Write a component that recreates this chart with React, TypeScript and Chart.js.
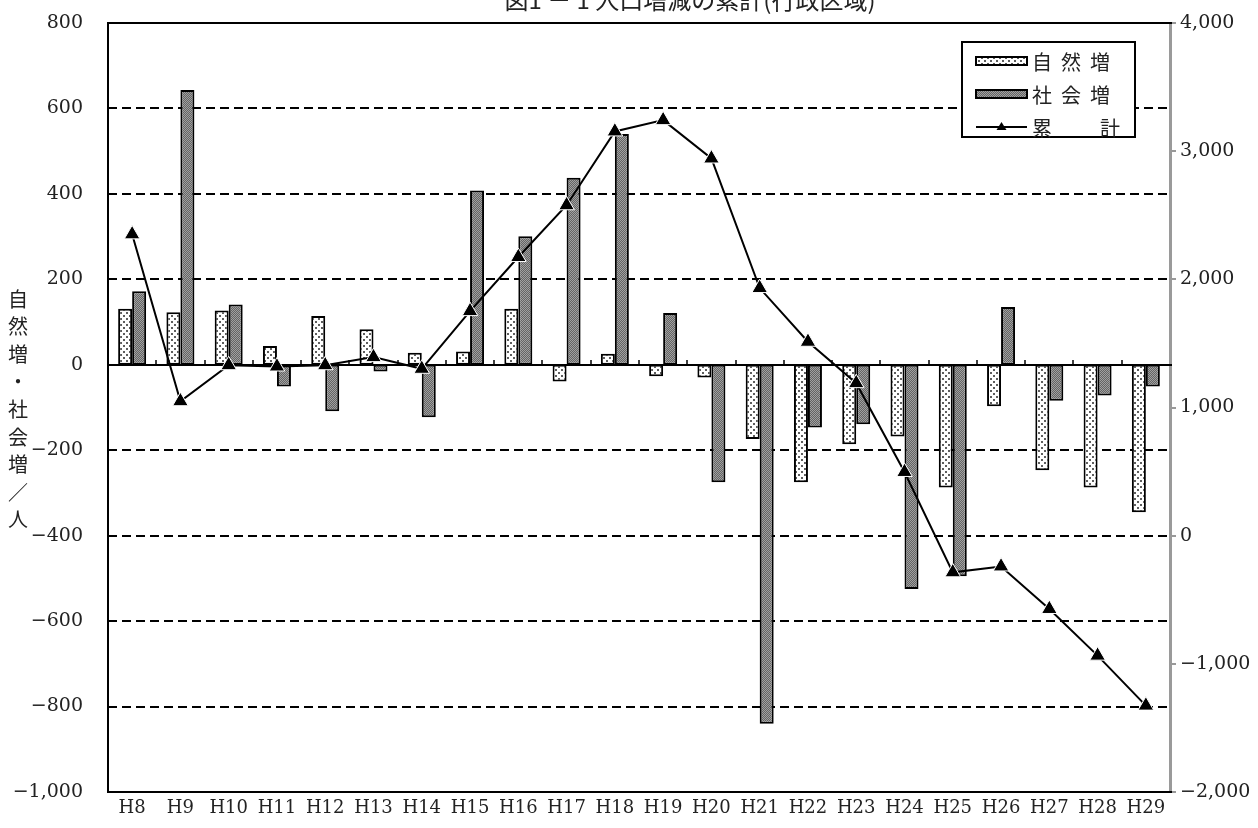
import React, { useEffect, useRef } from "react";
import { Chart, registerables } from "chart.js";

Chart.register(...registerables);

const categories = ["H8", "H9", "H10", "H11", "H12", "H13", "H14", "H15", "H16", "H17", "H18", "H19", "H20", "H21", "H22", "H23", "H24", "H25", "H26", "H27", "H28", "H29"];
const naturalIncrease = [131, 123, 127, 44, 114, 83, 28, 31, 131, -39, 26, -27, -30, -174, -275, -186, -168, -287, -97, -247, -287, -345];
const socialIncrease = [172, 643, 141, -51, -109, -16, -123, 408, 301, 438, 540, 121, -275, -840, -147, -139, -525, -495, 135, -84, -72, -51];
const cumulativeTotal = [2351, 1049, 1330, 1320, 1330, 1393, 1302, 1752, 2174, 2578, 3154, 3242, 2943, 1932, 1513, 1190, 497, -286, -240, -572, -936, -1326];

const leftAxisTicks = { min: -1000, max: 800, step: 200 };
const rightAxisTicks = { min: -2000, max: 4000, step: 1000 };

const seriesNames = ["自然増", "社会増", "累計"];
const titleText = "図1 － 1 人口増減の累計(行政区域)";
const leftAxisTitle = "自然増・社会増／人";

const NUM_FONT = "'DejaVu Serif', 'Liberation Serif', serif";
const JP_FONT = "'Noto Sans CJK JP', 'Noto Sans', sans-serif";

function fmt(v: number): string {
  const s = Math.abs(v).toLocaleString("en-US");
  return v < 0 ? "\u2212" + s : s;
}

function makeDotPattern(): CanvasPattern | string {
  const c = document.createElement("canvas");
  c.width = 6;
  c.height = 6;
  const g = c.getContext("2d");
  if (!g) return "#fff";
  g.fillStyle = "#ffffff";
  g.fillRect(0, 0, 6, 6);
  g.fillStyle = "#5e5e5e";
  g.fillRect(0, 0, 2, 2);
  g.fillRect(3, 3, 2, 2);
  return g.createPattern(c, "repeat") || "#fff";
}

function makeHatchPattern(): CanvasPattern | string {
  const c = document.createElement("canvas");
  c.width = 2;
  c.height = 2;
  const g = c.getContext("2d");
  if (!g) return "#888";
  g.fillStyle = "#646464";
  g.fillRect(0, 0, 2, 2);
  g.fillStyle = "#a0a0a0";
  g.fillRect(0, 0, 1, 1);
  g.fillRect(1, 1, 1, 1);
  return g.createPattern(c, "repeat") || "#888";
}

export default function App() {
  const canvasRef = useRef<HTMLCanvasElement | null>(null);

  useEffect(() => {
    const canvas = canvasRef.current;
    if (!canvas) return;
    const dotPattern = makeDotPattern();
    const hatchPattern = makeHatchPattern();

    const line = (ctx: CanvasRenderingContext2D, x1: number, y1: number, x2: number, y2: number) => {
      ctx.beginPath();
      ctx.moveTo(x1, y1);
      ctx.lineTo(x2, y2);
      ctx.stroke();
    };

    const framePlugin = {
      id: "frame",
      beforeDatasetsDraw(chart: any) {
        const { ctx, chartArea: a, scales } = chart;
        const y = scales.y;
        const x = scales.x;
        ctx.save();
        ctx.strokeStyle = "#000";
        ctx.lineWidth = 2;
        ctx.setLineDash([9, 5]);
        y.ticks.forEach((t: any) => {
          if (t.value === 0 || t.value === y.min || t.value === y.max) return;
          const py = Math.round(y.getPixelForValue(t.value));
          line(ctx, a.left, py, a.right, py);
        });
        ctx.setLineDash([]);
        line(ctx, a.left - 1, a.top, a.right + 2, a.top);
        line(ctx, a.left - 1, a.bottom, a.right + 2, a.bottom);
        line(ctx, a.left, a.top, a.left, a.bottom);
        const z = Math.round(y.getPixelForValue(0));
        line(ctx, a.left, z, a.right + 2, z);
        ctx.lineWidth = 1.5;
        for (let i = 0; i < categories.length - 1; i++) {
          const bx = Math.round((x.getPixelForValue(i) + x.getPixelForValue(i + 1)) / 2);
          line(ctx, bx, z, bx, z - 5);
        }
        ctx.restore();
      },
      afterDraw(chart: any) {
        const { ctx } = chart;
        ctx.save();
        // title (cut at top edge as in the reference)
        ctx.fillStyle = "#222";
        ctx.font = `24px ${JP_FONT}`;
        ctx.textAlign = "center";
        ctx.textBaseline = "alphabetic";
        ctx.fillText(titleText, 690, 9);

        // left axis title, stacked vertically
        ctx.font = `20px ${JP_FONT}`;
        ctx.textBaseline = "middle";
        Array.from(leftAxisTitle).forEach((ch, i) => {
          ctx.fillText(ch, 18, 299 + i * 27.6);
        });

        // legend
        const bx = 962, by = 42, bw = 173, bh = 95;
        ctx.fillStyle = "#fff";
        ctx.fillRect(bx, by, bw, bh);
        ctx.strokeStyle = "#000";
        ctx.lineWidth = 2;
        ctx.strokeRect(bx, by, bw, bh);
        const rows = [61, 94, 127];
        const sx = 976, sw = 51;
        ctx.fillStyle = dotPattern as any;
        ctx.fillRect(sx, rows[0] - 4, sw, 8);
        ctx.strokeRect(sx, rows[0] - 4, sw, 8);
        ctx.fillStyle = hatchPattern as any;
        ctx.fillRect(sx, rows[1] - 4, sw, 8);
        ctx.strokeRect(sx, rows[1] - 4, sw, 8);
        line(ctx, sx, rows[2], sx + sw, rows[2]);
        ctx.fillStyle = "#000";
        ctx.beginPath();
        ctx.moveTo(sx + sw / 2, rows[2] - 5);
        ctx.lineTo(sx + sw / 2 + 5, rows[2] + 3);
        ctx.lineTo(sx + sw / 2 - 5, rows[2] + 3);
        ctx.closePath();
        ctx.fill();

        ctx.fillStyle = "#222";
        ctx.font = `20px ${JP_FONT}`;
        ctx.textAlign = "center";
        ctx.textBaseline = "middle";
        const slots = [1042, 1071, 1100];
        Array.from(seriesNames[0]).forEach((ch, i) => ctx.fillText(ch, slots[i], rows[0] + 1));
        Array.from(seriesNames[1]).forEach((ch, i) => ctx.fillText(ch, slots[i], rows[1] + 1));
        const cum = Array.from(seriesNames[2]);
        ctx.fillText(cum[0], 1042, rows[2] + 1);
        ctx.fillText(cum[1], 1110, rows[2] + 1);
        ctx.restore();
      },
    };

    const chart = new Chart(canvas, {
      type: "bar",
      data: {
        labels: categories,
        datasets: [
          {
            type: "line",
            label: seriesNames[2],
            data: cumulativeTotal,
            yAxisID: "y1",
            borderColor: "#000",
            borderWidth: 2,
            pointStyle: "triangle",
            pointRadius: 9,
            pointBackgroundColor: "#000",
            pointBorderColor: "#fff",
            pointBorderWidth: 1,
            tension: 0,
            order: 0,
          } as any,
          {
            type: "bar",
            label: seriesNames[0],
            data: naturalIncrease,
            yAxisID: "y",
            backgroundColor: dotPattern as any,
            borderColor: "#000",
            borderWidth: 2,
            borderSkipped: false,
            categoryPercentage: 0.58,
            barPercentage: 1.0,
            order: 1,
          },
          {
            type: "bar",
            label: seriesNames[1],
            data: socialIncrease,
            yAxisID: "y",
            backgroundColor: hatchPattern as any,
            borderColor: "#000",
            borderWidth: 2,
            borderSkipped: false,
            categoryPercentage: 0.58,
            barPercentage: 1.0,
            order: 1,
          },
        ],
      },
      options: {
        responsive: false,
        animation: false,
        events: [],
        layout: { padding: { top: 23, left: 0, right: 0, bottom: 0 } },
        plugins: {
          legend: { display: false },
          tooltip: { enabled: false },
          title: { display: false },
        },
        scales: {
          x: {
            type: "category",
            offset: true,
            grid: { display: false, drawTicks: false },
            border: { display: false },
            ticks: {
              color: "#222",
              font: { family: NUM_FONT, size: 18 },
              padding: 6,
              maxRotation: 0,
              autoSkip: false,
            },
            afterFit: (s: any) => {
              s.height = 36;
              s.paddingLeft = 0;
              s.paddingRight = 0;
            },
          },
          y: {
            type: "linear",
            position: "left",
            min: leftAxisTicks.min,
            max: leftAxisTicks.max,
            grid: { display: false, drawTicks: false },
            border: { display: false },
            ticks: {
              stepSize: leftAxisTicks.step,
              color: "#222",
              font: { family: NUM_FONT, size: 19 },
              padding: 25,
              callback: (v: any) => fmt(Number(v)),
            },
            afterFit: (s: any) => {
              s.width = 108;
              s.paddingTop = 0;
              s.paddingBottom = 0;
            },
          },
          y1: {
            type: "linear",
            position: "right",
            min: rightAxisTicks.min,
            max: rightAxisTicks.max,
            grid: { drawOnChartArea: false, drawTicks: true, tickLength: 6, tickColor: "#999", lineWidth: 2 },
            border: { display: true, color: "#9a9a9a", width: 3 },
            ticks: {
              stepSize: rightAxisTicks.step,
              color: "#222",
              font: { family: NUM_FONT, size: 19 },
              padding: 4,
              callback: (v: any) => fmt(Number(v)),
            },
            afterFit: (s: any) => {
              s.width = 88;
              s.paddingTop = 0;
              s.paddingBottom = 0;
            },
          },
        },
      },
      plugins: [framePlugin],
    });

    return () => {
      chart.destroy();
    };
  }, []);

  return (
    <div style={{ position: "fixed", left: 0, top: 0, width: 1258, height: 828, background: "#fff" }}>
      <canvas ref={canvasRef} width={1258} height={828} style={{ width: 1258, height: 828, display: "block" }} />
    </div>
  );
}
